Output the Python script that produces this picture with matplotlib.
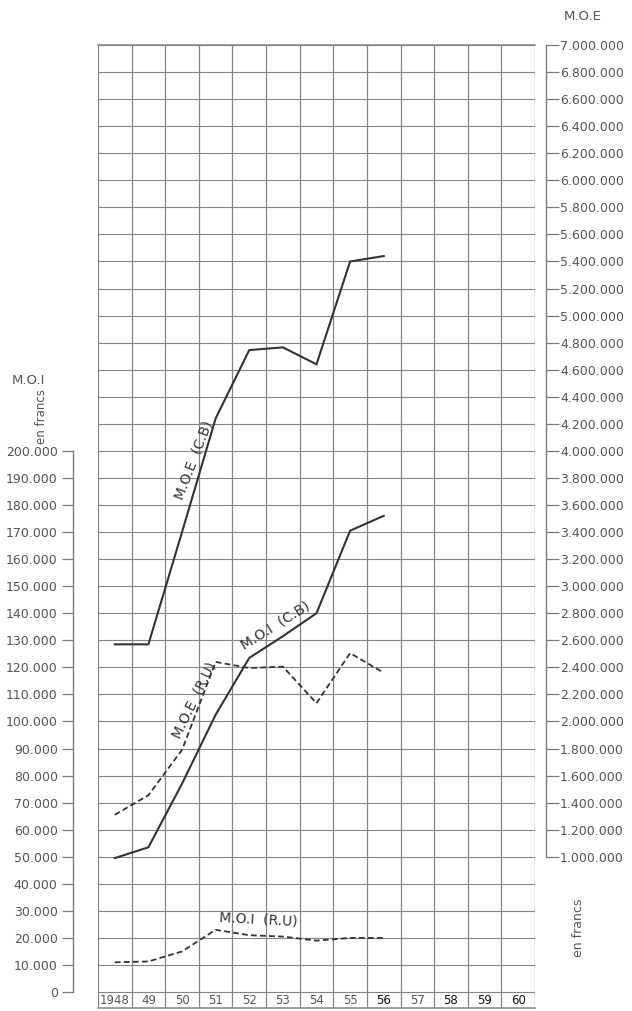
import matplotlib
matplotlib.use("Agg")
import matplotlib.pyplot as plt
import numpy as np

# ---------------- data ----------------
year_labels = ["1948", "49", "50", "51", "52", "53", "54", "55", "56", "57", "58", "59", "60"]
data_years = [1948, 1949, 1950, 1951, 1952, 1953, 1954, 1955, 1956]

# right axis (M.O.E) in francs
moe_cb = [2570000, 2570000, 3400000, 4240000, 4745000, 4765000, 4640000, 5400000, 5440000]
moe_ru = [1310000, 1455000, 1790000, 2440000, 2395000, 2405000, 2135000, 2505000, 2360000]
# left axis (M.O.I) in francs
moi_cb = [49500, 53500, 77000, 102500, 123500, 131500, 140000, 170500, 176000]
moi_ru = [11000, 11300, 15000, 23000, 21000, 20500, 19000, 20000, 20000]

left_ticks = list(range(0, 200001, 10000))
right_ticks = list(range(1000000, 7000001, 200000))


def fmt(v):
    return f"{v:,}".replace(",", ".")


# ---------------- figure ----------------
W, H = 632, 1011
fig = plt.figure(figsize=(W / 100, H / 100), dpi=100)
fig.patch.set_facecolor("white")

grid_c = "#858585"
line_c = "#333333"
text_c = "#555555"

ax = fig.add_axes([98 / W, 3 / H, 437 / W, 963 / H])
ROW = 10000
NROWS = 35
ax.set_xlim(0, len(year_labels))
ax.set_ylim(-0.59 * ROW, NROWS * ROW)
ax.set_facecolor("white")

# grid
for k in range(NROWS + 1):
    ax.axhline(k * ROW, color=grid_c, lw=0.8, zorder=1)
for i in range(len(year_labels) + 1):
    ax.axvline(i, color=grid_c, lw=0.9, zorder=1)

for s in ["top", "bottom"]:
    ax.spines[s].set_color(grid_c)
    ax.spines[s].set_linewidth(1.1)
ax.spines["right"].set_visible(False)
ax.spines["left"].set_position(("outward", 18))
ax.spines["left"].set_bounds(0, 200000)
ax.spines["left"].set_color("#7a7a7a")
ax.spines["left"].set_linewidth(1.0)

ax.set_xticks([])
ax.set_yticks(left_ticks)
ax.set_yticklabels([fmt(v) for v in left_ticks])
ax.tick_params(axis="y", direction="out", length=8, width=0.9, pad=3,
               labelsize=9, colors="#7a7a7a", labelcolor=text_c)

# right axis
ax2 = ax.twinx()
ax2.set_ylim(-0.59 * ROW * 20, NROWS * ROW * 20)
for s in ["top", "bottom", "left"]:
    ax2.spines[s].set_visible(False)
ax2.spines["right"].set_position(("outward", 8))
ax2.spines["right"].set_bounds(1000000, 7000000)
ax2.spines["right"].set_color("#7a7a7a")
ax2.spines["right"].set_linewidth(1.0)
ax2.set_yticks(right_ticks)
ax2.set_yticklabels([fmt(v) for v in right_ticks])
ax2.tick_params(axis="y", direction="out", length=9, width=0.9, pad=1,
                labelsize=9, colors="#7a7a7a", labelcolor=text_c)

# year labels
dark_years = {"56", "58", "59", "60"}
for i, yl in enumerate(year_labels):
    ax.text(i + 0.5, -0.3 * ROW, yl, ha="center", va="center", fontsize=8.5,
            color="#111111" if yl in dark_years else text_c, zorder=3)

# series
xpos = np.array([y - data_years[0] for y in data_years]) + 0.5
ax2.plot(xpos, moe_cb, color=line_c, lw=1.5, zorder=4, solid_joinstyle="miter")
ax2.plot(xpos, moe_ru, color=line_c, lw=1.3, dashes=(3.2, 1.8), zorder=4)
ax.plot(xpos, moi_cb, color=line_c, lw=1.5, zorder=4, solid_joinstyle="miter")
ax.plot(xpos, moi_ru, color=line_c, lw=1.3, dashes=(3.2, 1.8), zorder=4)

# series labels
lbl_kw = dict(ha="center", va="center", fontsize=10, color="#333333", zorder=5)
ax2.text(2.86, 3930000, "M.O.E  (C.B)", rotation=69, **lbl_kw)
ax.text(5.28, 135500, "M.O.I  (C.B)", rotation=32, **lbl_kw)
ax2.text(2.85, 2160000, "M.O.E  (R.U)", rotation=64, **lbl_kw)
ax.text(4.78, 26800, "M.O.I  (R.U)", rotation=-3, **lbl_kw)

# axis titles
fig.text(28 / W, 1 - 381 / H, "M.O.I", ha="center", va="center", fontsize=9.5, color=text_c)
fig.text(42 / W, 1 - 417 / H, "en francs", ha="center", va="center", fontsize=8.5,
         rotation=90, color=text_c)
fig.text(583 / W, 1 - 16 / H, "M.O.E", ha="center", va="center", fontsize=9.5, color=text_c)
fig.text(578 / W, 1 - 928 / H, "en francs", ha="center", va="center", fontsize=9,
         rotation=90, color=text_c)

fig.savefig("out.png", dpi=100, facecolor="white")
